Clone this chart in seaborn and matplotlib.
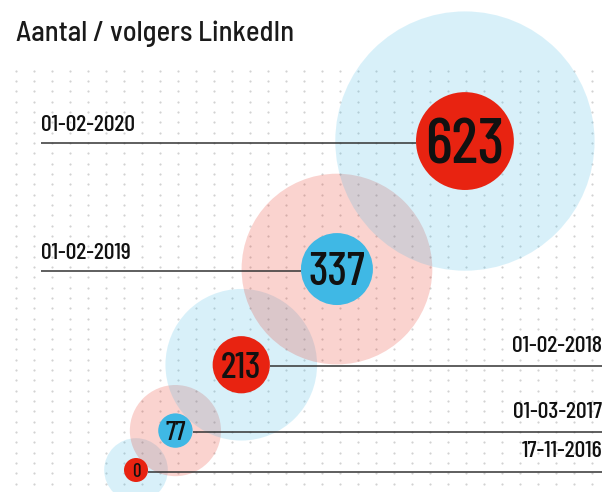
import matplotlib
matplotlib.use("Agg")
import matplotlib.pyplot as plt
from matplotlib.patches import Circle
import seaborn as sns
import numpy as np
import pandas as pd

# Gegevens: aantal volgers op LinkedIn per peildatum
datums = ['17-11-2016', '01-03-2017', '01-02-2018', '01-02-2019', '01-02-2020']
volgers = [0, 77, 213, 337, 623]
kleuren = ['#e82311', '#3fb8e5', '#e82311', '#3fb8e5', '#e82311']
halo = ['#3fb8e5', '#e82311', '#3fb8e5', '#e82311', '#3fb8e5']

titel = 'Aantal / volgers LinkedIn'

sns.set_style("white")
plt.rcParams['font.family'] = ['Barlow Condensed', 'DejaVu Sans']
plt.rcParams['font.weight'] = 'medium'
CAP = 0.7  # cijferhoogte als fractie van de korpsgrootte

W, H = 608, 492
fig = plt.figure(figsize=(W / 100, H / 100), dpi=100)
ax = fig.add_axes([0, 0, 1, 1])
ax.set_xlim(0, W)
ax.set_ylim(H, 0)
ax.axis('off')

# stippenraster op de achtergrond
gx, gy = np.meshgrid(np.arange(16, 612, 18), 70.7 + 10.325 * np.arange(41))
raster = pd.DataFrame({'x': gx.ravel(), 'y': gy.ravel()})
sns.scatterplot(data=raster, x='x', y='y', s=2.5, color='#d2d2d2',
                linewidth=0, ax=ax, zorder=0, legend=False)

# straal van de cirkels volgt de wortel van de waarde
r = np.maximum(12, 1.96 * np.sqrt(np.array(volgers, dtype=float)))
R = 2.65 * r

# middelpunten op een diagonaal, stap afhankelijk van de halo's
cx = [136.0]
cy = [470.0]
for i in range(1, len(volgers)):
    step = 0.6 * (R[i - 1] + R[i]) - 7
    cx.append(cx[-1] + step)
    cy.append(cy[-1] - step)

for i in range(len(volgers)):
    ax.add_patch(Circle((cx[i], cy[i]), R[i], color=halo[i], alpha=0.2,
                        lw=0, zorder=1))

for i, (d, v) in enumerate(zip(datums, volgers)):
    ly = cy[i] + 1.5
    links = cx[i] > W / 2
    if links:
        x0, x1 = 40.5, cx[i] - r[i]
        ax.text(40.5, ly - 12, d, ha='left', va='baseline',
                fontsize=16.7 / CAP * 0.72, color='#111111', zorder=4)
    else:
        x0, x1 = cx[i] + r[i], 602
        ax.text(602, ly - 14.5, d, ha='right', va='baseline',
                fontsize=16.7 / CAP * 0.72, color='#111111', zorder=4)
    ax.plot([x0, x1], [ly, ly], color='#333333', lw=1.1,
            zorder=2, solid_capstyle='butt')

    ax.add_patch(Circle((cx[i], cy[i]), r[i], color=kleuren[i], lw=0,
                        zorder=3))
    s = str(v)
    D = 2 * r[i]
    h = min(0.76 * D / (len(s) * 0.56), 0.55 * D)
    ax.text(cx[i], cy[i] + h / 2, s, ha='center', va='baseline',
            fontsize=h / CAP * 0.72, color='#111111', zorder=4)

ax.text(16, 40.7, titel, ha='left', va='baseline', fontsize=20 / CAP * 0.72,
        family=['Barlow Semi Condensed', 'DejaVu Sans'], color='#1a1a1a')

fig.savefig('out.png', dpi=100)
